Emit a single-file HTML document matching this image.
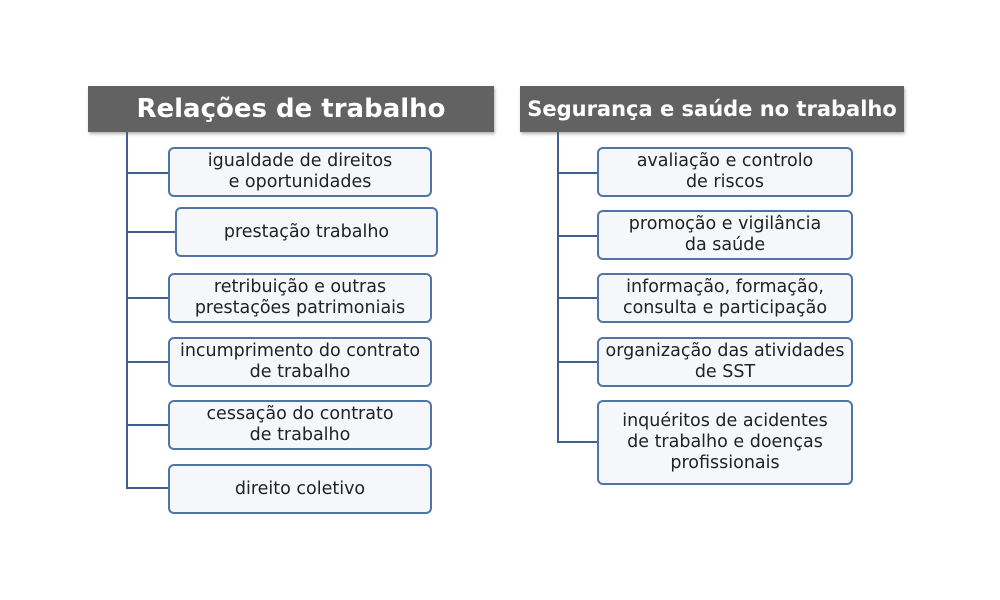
<!DOCTYPE html>
<html><head><meta charset="utf-8"><style>
body{margin:0;width:1000px;height:600px;background:#fff;position:relative;overflow:hidden;font-family:"DejaVu Sans","Liberation Sans",sans-serif}
.h{position:absolute;background:#626262;color:#fff;font-weight:bold;display:flex;align-items:center;justify-content:center;box-shadow:1px 2px 3px rgba(0,0,0,.3)}
.b{position:absolute;box-sizing:border-box;border:2px solid #4f74a8;border-radius:6px;background:#f5f7fb;color:#222;font-size:17.5px;line-height:21px;text-align:center;display:flex;align-items:center;justify-content:center}
.l{position:absolute;background:#3e5f8f}
</style></head><body>
<div class="h" style="left:88px;top:86px;width:406px;height:46px;font-size:26px">Relações de trabalho</div>
<div class="h" style="left:520px;top:86px;width:384px;height:46px;font-size:21px">Segurança e saúde no trabalho</div>

<div class="l" style="left:126px;top:132px;width:2px;height:357px"></div>
<div class="l" style="left:126px;top:172px;width:42px;height:2px"></div>
<div class="l" style="left:126px;top:231px;width:49px;height:2px"></div>
<div class="l" style="left:126px;top:297px;width:42px;height:2px"></div>
<div class="l" style="left:126px;top:361px;width:42px;height:2px"></div>
<div class="l" style="left:126px;top:424px;width:42px;height:2px"></div>
<div class="l" style="left:126px;top:487px;width:42px;height:2px"></div>

<div class="b" style="left:168px;top:147px;width:264px;height:50px">igualdade de direitos<br>e oportunidades</div>
<div class="b" style="left:175px;top:207px;width:263px;height:50px">prestação trabalho</div>
<div class="b" style="left:168px;top:273px;width:264px;height:50px">retribuição e outras<br>prestações patrimoniais</div>
<div class="b" style="left:168px;top:337px;width:264px;height:50px">incumprimento do contrato<br>de trabalho</div>
<div class="b" style="left:168px;top:400px;width:264px;height:50px">cessação do contrato<br>de trabalho</div>
<div class="b" style="left:168px;top:464px;width:264px;height:50px">direito coletivo</div>

<div class="l" style="left:557px;top:132px;width:2px;height:311px"></div>
<div class="l" style="left:557px;top:172px;width:40px;height:2px"></div>
<div class="l" style="left:557px;top:235px;width:40px;height:2px"></div>
<div class="l" style="left:557px;top:297px;width:40px;height:2px"></div>
<div class="l" style="left:557px;top:361px;width:40px;height:2px"></div>
<div class="l" style="left:557px;top:441px;width:40px;height:2px"></div>

<div class="b" style="left:597px;top:147px;width:256px;height:50px">avaliação e controlo<br>de riscos</div>
<div class="b" style="left:597px;top:210px;width:256px;height:50px">promoção e vigilância<br>da saúde</div>
<div class="b" style="left:597px;top:273px;width:256px;height:50px">informação, formação,<br>consulta e participação</div>
<div class="b" style="left:597px;top:337px;width:256px;height:50px">organização das atividades<br>de SST</div>
<div class="b" style="left:597px;top:400px;width:256px;height:85px">inquéritos de acidentes<br>de trabalho e doenças<br>profissionais</div>
</body></html>
